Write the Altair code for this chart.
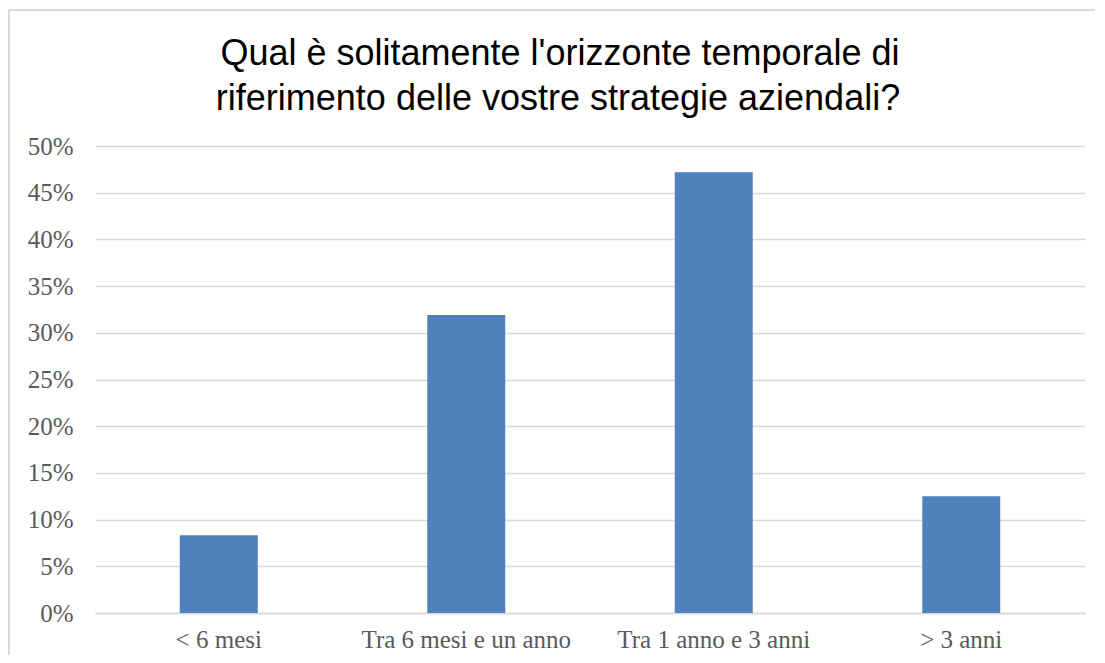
import altair as alt
import pandas as pd

categories = ["< 6 mesi", "Tra 6 mesi e un anno", "Tra 1 anno e 3 anni", "> 3 anni"]
values = [0.0833, 0.319, 0.472, 0.125]
y_ticks = [0, 0.05, 0.10, 0.15, 0.20, 0.25, 0.30, 0.35, 0.40, 0.45, 0.50]
title_lines = ["Qual è solitamente l'orizzonte temporale di",
               "riferimento delle vostre strategie aziendali?"]

df = pd.DataFrame({"cat": categories, "val": values})

W, H = 990, 467

bars = alt.Chart(df).mark_bar(color="#4F81BD").encode(
    x=alt.X("cat:N", sort=categories, title=None,
            scale=alt.Scale(paddingInner=0.685, paddingOuter=0.3425),
            axis=alt.Axis(labelAngle=0, labelFont="Liberation Serif", labelFontSize=25,
                          labelColor="#595959", labelPadding=14, ticks=False, labelLimit=0,
                          domainColor="#D9D9D9", domainWidth=1.5, grid=False)),
    y=alt.Y("val:Q", title=None,
            scale=alt.Scale(domain=[0, 0.5], nice=False),
            axis=alt.Axis(values=y_ticks, format=".0%", labelFont="Liberation Serif",
                          labelFontSize=25, labelColor="#595959", labelPadding=22,
                          ticks=False, domain=False, gridColor="#D9D9D9", gridWidth=1.5)),
)

left_border = alt.Chart(df).mark_rule(color="#D9D9D9", strokeWidth=1.5).encode(
    x=alt.value(-86), y=alt.value(-136), y2=alt.value(H + 60)
)
top_border = alt.Chart(df).mark_rule(color="#D9D9D9", strokeWidth=1.5).encode(
    y=alt.value(-136), x=alt.value(-86), x2=alt.value(W + 20)
)

title1 = alt.Chart(pd.DataFrame({"t": [title_lines[0]]})).mark_text(
    font="Liberation Sans", fontSize=36, color="#000000", align="center", baseline="alphabetic"
).encode(text="t:N", x=alt.value(465), y=alt.value(-81))
title2 = alt.Chart(pd.DataFrame({"t": [title_lines[1]]})).mark_text(
    font="Liberation Sans", fontSize=36, color="#000000", align="center", baseline="alphabetic"
).encode(text="t:N", x=alt.value(463), y=alt.value(-36))

chart = alt.layer(left_border, top_border, bars, title1, title2).properties(
    width=W, height=H,
    autosize=alt.AutoSizeParams(type="none"),
    padding={"left": 87, "top": 138, "right": 10, "bottom": 42},
).configure(background="white").configure_view(stroke=None)

chart.save("out.html", embed_options={"renderer": "svg", "actions": False})
